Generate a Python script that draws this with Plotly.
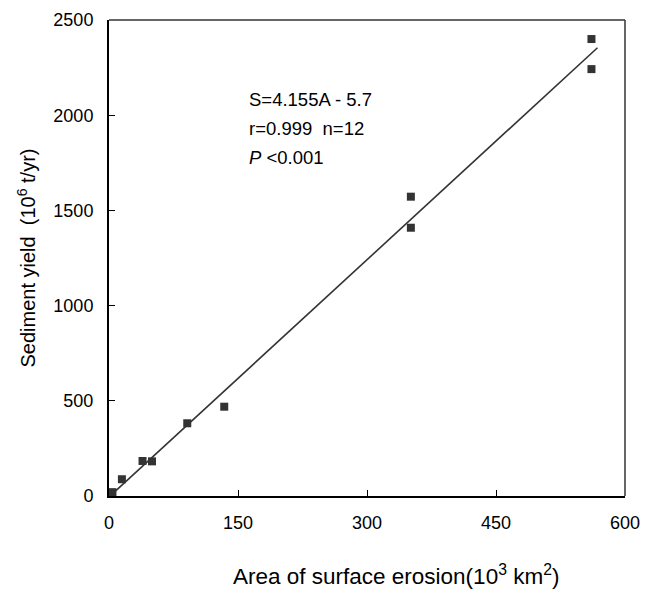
import plotly.graph_objects as go

# Observed data (area of surface erosion, 10^3 km^2; sediment yield, 10^6 t/yr)
area = [2, 3, 4, 15, 39, 50, 91, 134, 351, 351, 561, 561]
sediment = [10, 17, 20, 88, 184, 182, 382, 469, 1572, 1409, 2400, 2242]

# Regression line S = 4.155A - 5.7
slope = 4.155
intercept = -5.7
fit_x = [3, 568]
fit_y = [slope * a + intercept for a in fit_x]

x_ticks = [0, 150, 300, 450, 600]
y_ticks = [0, 500, 1000, 1500, 2000, 2500]

x_title = "Area of surface erosion(10<sup>3</sup> km<sup>2</sup>)"
y_title = "Sediment yield  (10<sup>6</sup> t/yr)"
stats = ["S=4.155A - 5.7", "r=0.999  n=12", "<i>P</i> &lt;0.001"]

font_family = "Liberation Sans, Arial, sans-serif"

fig = go.Figure()
fig.add_trace(go.Scatter(x=fit_x, y=fit_y, mode="lines",
                         line=dict(color="#333333", width=1.6),
                         showlegend=False, hoverinfo="skip"))
fig.add_trace(go.Scatter(x=area, y=sediment, mode="markers",
                         marker=dict(symbol="square", size=8, color="#333333"),
                         showlegend=False))

fig.update_layout(
    width=644, height=581,
    margin=dict(l=101, r=27, t=12, b=93),
    paper_bgcolor="white", plot_bgcolor="white",
    font=dict(family=font_family, size=18, color="black"),
    xaxis=dict(range=[0, 600], tickvals=x_ticks, ticks="inside", ticklen=6,
               tickcolor="black", showline=True, linecolor="black", linewidth=2,
               showgrid=False, zeroline=False, tickfont=dict(size=18),
               ticklabelstandoff=9, automargin=False),
    yaxis=dict(range=[0, 2500], tickvals=y_ticks, ticks="inside", ticklen=6,
               tickcolor="black", showline=True, linecolor="black", linewidth=2,
               showgrid=False, zeroline=False, tickfont=dict(size=18),
               ticklabelstandoff=10, automargin=False,
               title=dict(text=y_title, font=dict(size=20), standoff=12)),
    shapes=[
        dict(type="line", xref="paper", yref="paper", x0=0, x1=1, y0=1, y1=1,
             line=dict(color="#333333", width=1.5)),
        dict(type="line", xref="paper", yref="paper", x0=1, x1=1, y0=0, y1=1,
             line=dict(color="#333333", width=1.5)),
    ],
    annotations=[
        dict(x=161, y=2080, xref="x", yref="y", text=stats[0],
             showarrow=False, xanchor="left", yanchor="middle", font=dict(size=18.5)),
        dict(x=161, y=1928, xref="x", yref="y", text=stats[1],
             showarrow=False, xanchor="left", yanchor="middle", font=dict(size=18.5)),
        dict(x=161, y=1776, xref="x", yref="y", text=stats[2],
             showarrow=False, xanchor="left", yanchor="middle", font=dict(size=18.5)),
        dict(x=0.556, y=0, xref="paper", yref="paper", yshift=-79, text=x_title,
             showarrow=False, xanchor="center", yanchor="middle", font=dict(size=22.5)),
    ],
)

fig.write_html("out.html")
